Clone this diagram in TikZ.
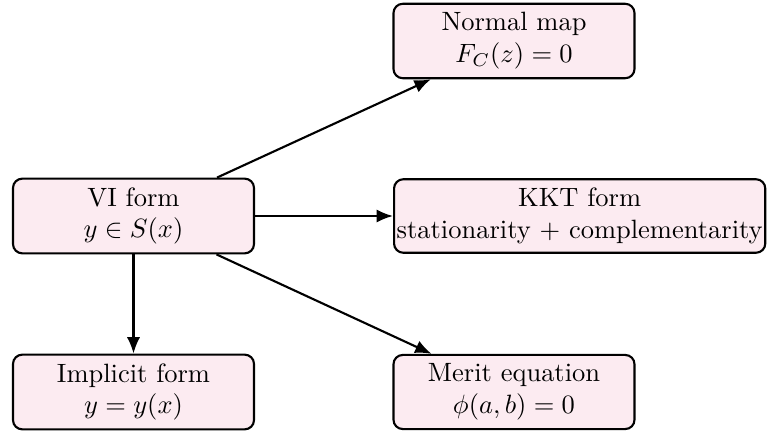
\documentclass[tikz,border=0pt]{standalone}
\usetikzlibrary{arrows.meta}
\definecolor{boxfill}{RGB}{252,235,241}
\begin{document}
\begin{tikzpicture}[x=0.3776pt,y=-0.3776pt,
  box/.style={draw, thick, fill=boxfill, rounded corners=3.5pt, align=center,
    minimum width=91pt, minimum height=27.6pt, inner sep=3.33pt},
  arr/.style={thick, -{Latex[length=6.2pt,width=5pt]}}]
\useasboundingbox (0,0) rectangle (768,432);
\node[box] (vi) at (133.5,216) {VI form\\ $y\in S(x)$};
\node[box] (nm) at (514,41) {Normal map\\ $F_C(z)=0$};
\node[box, anchor=west, inner xsep=1pt] (kkt) at (393,216) {KKT form\\ stationarity + complementarity};
\node[box] (imp) at (133.5,392) {Implicit form\\ $y=y(x)$};
\node[box] (mer) at (514,392) {Merit equation\\ $\phi(a,b)=0$};
\draw[arr] (vi) -- (nm);
\draw[arr] (vi) -- (kkt);
\draw[arr] (vi) -- (mer);
\draw[arr] (vi) -- (imp);
\end{tikzpicture}
\end{document}
